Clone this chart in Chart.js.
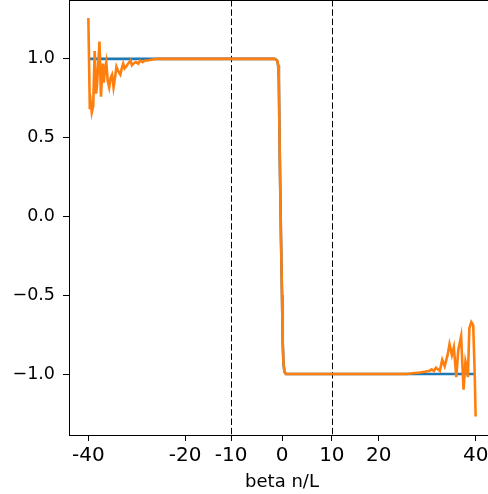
<!DOCTYPE html>
<html>
<head>
<meta charset="utf-8">
<script src="https://cdn.jsdelivr.net/npm/chart.js@4"></script>
<style>
    html, body { margin: 0; padding: 0; background: #fff; overflow: hidden; }
    .wrap { width: 488px; height: 494px; overflow: hidden; }
    .inner { width: 496px; height: 494px; }
</style>
</head>
<body>
<div class="wrap"><div class="inner"><canvas id="stepChart" width="496" height="494"></canvas></div></div>
<script>
// Blue curve (clean step, hidden under orange in the middle)
const blueX = [-40, -1.5, -1.0, -0.8, -0.65, -0.55, -0.4, -0.2, 0.0, 0.15, 0.3, 0.5, 0.8, 40];
const blueY = [1, 1, 0.99, 0.96, 0.87, 0.6, 0.25, -0.15, -0.5, -0.8, -0.93, -0.985, -1, -1];

// Orange curve (noisy ends, sharp drop at 0)
const orangeX = [
    -40.0, -39.7, -39.5, -39.3, -39.0, -38.7, -38.4, -38.2, -37.9, -37.7,
    -37.4, -37.2, -37.0, -36.8, -36.6, -36.3, -36.0, -35.7, -35.4, -35.1,
    -34.8, -34.5, -34.2, -33.8, -33.4, -33.1, -32.8, -32.5, -32.2, -31.8,
    -31.3, -31.0, -30.7, -30.2, -29.7, -29.3, -28.8, -28.3, -27.8, -27.0,
    -26.0, -20.0, -10.0, -3.0, -1.5, -1.0, -0.8, -0.65, -0.55, -0.4,
    -0.2, 0.0, 0.15, 0.3, 0.5, 0.8, 10.0, 20.0, 25.8, 27.0,
    28.5, 29.5, 30.5, 30.9, 31.4, 31.8, 32.2, 32.6, 33.1, 33.6,
    34.2, 34.6, 35.1, 35.5, 36.0, 36.4, 37.0, 37.5, 37.9, 38.2,
    38.4, 38.7, 39.1, 39.5, 39.8, 40.0
];
const orangeY = [
    1.26, 0.68, 0.72, 0.66, 0.70, 1.05, 0.78, 0.84, 1.00, 1.11,
    0.76, 0.88, 0.97, 0.85, 0.93, 0.98, 0.86, 0.82, 0.88, 0.90,
    0.82, 0.88, 0.95, 0.92, 0.90, 0.94, 0.97, 0.94, 0.95, 0.97,
    0.99, 0.96, 0.97, 0.98, 0.97, 0.99, 0.98, 0.99, 0.99, 0.995,
    1.0, 1.0, 1.0, 1.0, 1.0, 0.99, 0.96, 0.87, 0.6, 0.25,
    -0.15, -0.5, -0.8, -0.93, -0.985, -1.0, -1.0, -1.0, -1.0, -0.995,
    -0.99, -0.985, -0.98, -0.97, -0.98, -0.96, -0.97, -0.98, -0.91, -0.95,
    -0.88, -0.81, -0.88, -0.83, -1.02, -0.85, -0.76, -1.10, -0.92, -0.96,
    -1.02, -0.71, -0.67, -0.69, -0.99, -1.27
];

// Dashed markers
const vlines = [-10.5, 10.3];

// Axes
const xTicks = [-40, -20, -10.5, 0, 10.3, 20, 40];
const xTickLabels = ['-40', '-20', '-10', '0', '10', '20', '40'];
const yTicks = [-1.0, -0.5, 0.0, 0.5, 1.0];
const yTickLabels = ['\u22121.0', '\u22120.5', '0.0', '0.5', '1.0'];
const xRange = [-44, 44];
const yRange = [-1.387, 1.374];

function toPoints(xs, ys) {
    return xs.map((x, i) => ({ x: x, y: ys[i] }));
}

document.addEventListener('DOMContentLoaded', function() {
    const font = "'DejaVu Sans', sans-serif";

    // Dashed vertical lines + top frame line
    const extras = {
        id: 'extras',
        beforeDatasetsDraw(chart) {
            const ctx = chart.ctx;
            const area = chart.chartArea;
            const xs = chart.scales.x;
            ctx.save();
            ctx.strokeStyle = '#000';
            ctx.lineWidth = 1;
            ctx.setLineDash([6.5, 2.8]);
            vlines.forEach(v => {
                const px = Math.round(xs.getPixelForValue(v)) + 0.5;
                ctx.beginPath();
                ctx.moveTo(px, area.top);
                ctx.lineTo(px, area.bottom);
                ctx.stroke();
            });
            ctx.restore();
        },
        afterDraw(chart) {
            const ctx = chart.ctx;
            const area = chart.chartArea;
            ctx.save();
            ctx.strokeStyle = '#000';
            ctx.lineWidth = 1;
            ctx.beginPath();
            ctx.moveTo(area.left, area.top + 0.5);
            ctx.lineTo(area.right, area.top + 0.5);
            ctx.stroke();
            ctx.restore();
        }
    };

    const ctx = document.getElementById('stepChart').getContext('2d');
    new Chart(ctx, {
        type: 'line',
        data: {
            datasets: [{
                data: toPoints(orangeX, orangeY),
                borderColor: '#ff7f0e',
                borderWidth: 2.6,
                pointRadius: 0,
                tension: 0,
                order: 0
            }, {
                data: toPoints(blueX, blueY),
                borderColor: '#1f77b4',
                borderWidth: 2.6,
                pointRadius: 0,
                tension: 0,
                order: 1
            }]
        },
        options: {
            responsive: false,
            animation: false,
            layout: { padding: { top: 0, right: 1, left: 0, bottom: 0 } },
            plugins: {
                legend: { display: false },
                tooltip: { enabled: false }
            },
            scales: {
                x: {
                    type: 'linear',
                    min: xRange[0],
                    max: xRange[1],
                    afterBuildTicks: s => { s.ticks = xTicks.map(v => ({ value: v })); },
                    afterFit: s => {
                        s.height = 59;
                        s.paddingLeft = 0;
                        s.paddingRight = 0;
                    },
                    ticks: {
                        color: '#000',
                        padding: 3,
                        maxRotation: 0,
                        autoSkip: false,
                        font: { family: font, size: 20 },
                        callback: (v, i) => xTickLabels[i]
                    },
                    grid: {
                        drawOnChartArea: false,
                        tickLength: 6,
                        tickColor: '#000'
                    },
                    border: { color: '#000', width: 1 },
                    title: {
                        display: true,
                        text: 'beta n/L',
                        color: '#000',
                        font: { family: font, size: 18 },
                        padding: { top: 0, bottom: 1 }
                    }
                },
                y: {
                    min: yRange[0],
                    max: yRange[1],
                    afterBuildTicks: s => { s.ticks = yTicks.map(v => ({ value: v })); },
                    afterFit: s => {
                        s.width = 69;
                        s.paddingTop = 0;
                        s.paddingBottom = 0;
                    },
                    ticks: {
                        color: '#000',
                        padding: 8,
                        font: { family: font, size: 17.5 },
                        callback: (v, i) => yTickLabels[i]
                    },
                    grid: {
                        drawOnChartArea: false,
                        tickLength: 6,
                        tickColor: '#000'
                    },
                    border: { color: '#000', width: 1 }
                }
            }
        },
        plugins: [extras]
    });
});
</script>
</body>
</html>
